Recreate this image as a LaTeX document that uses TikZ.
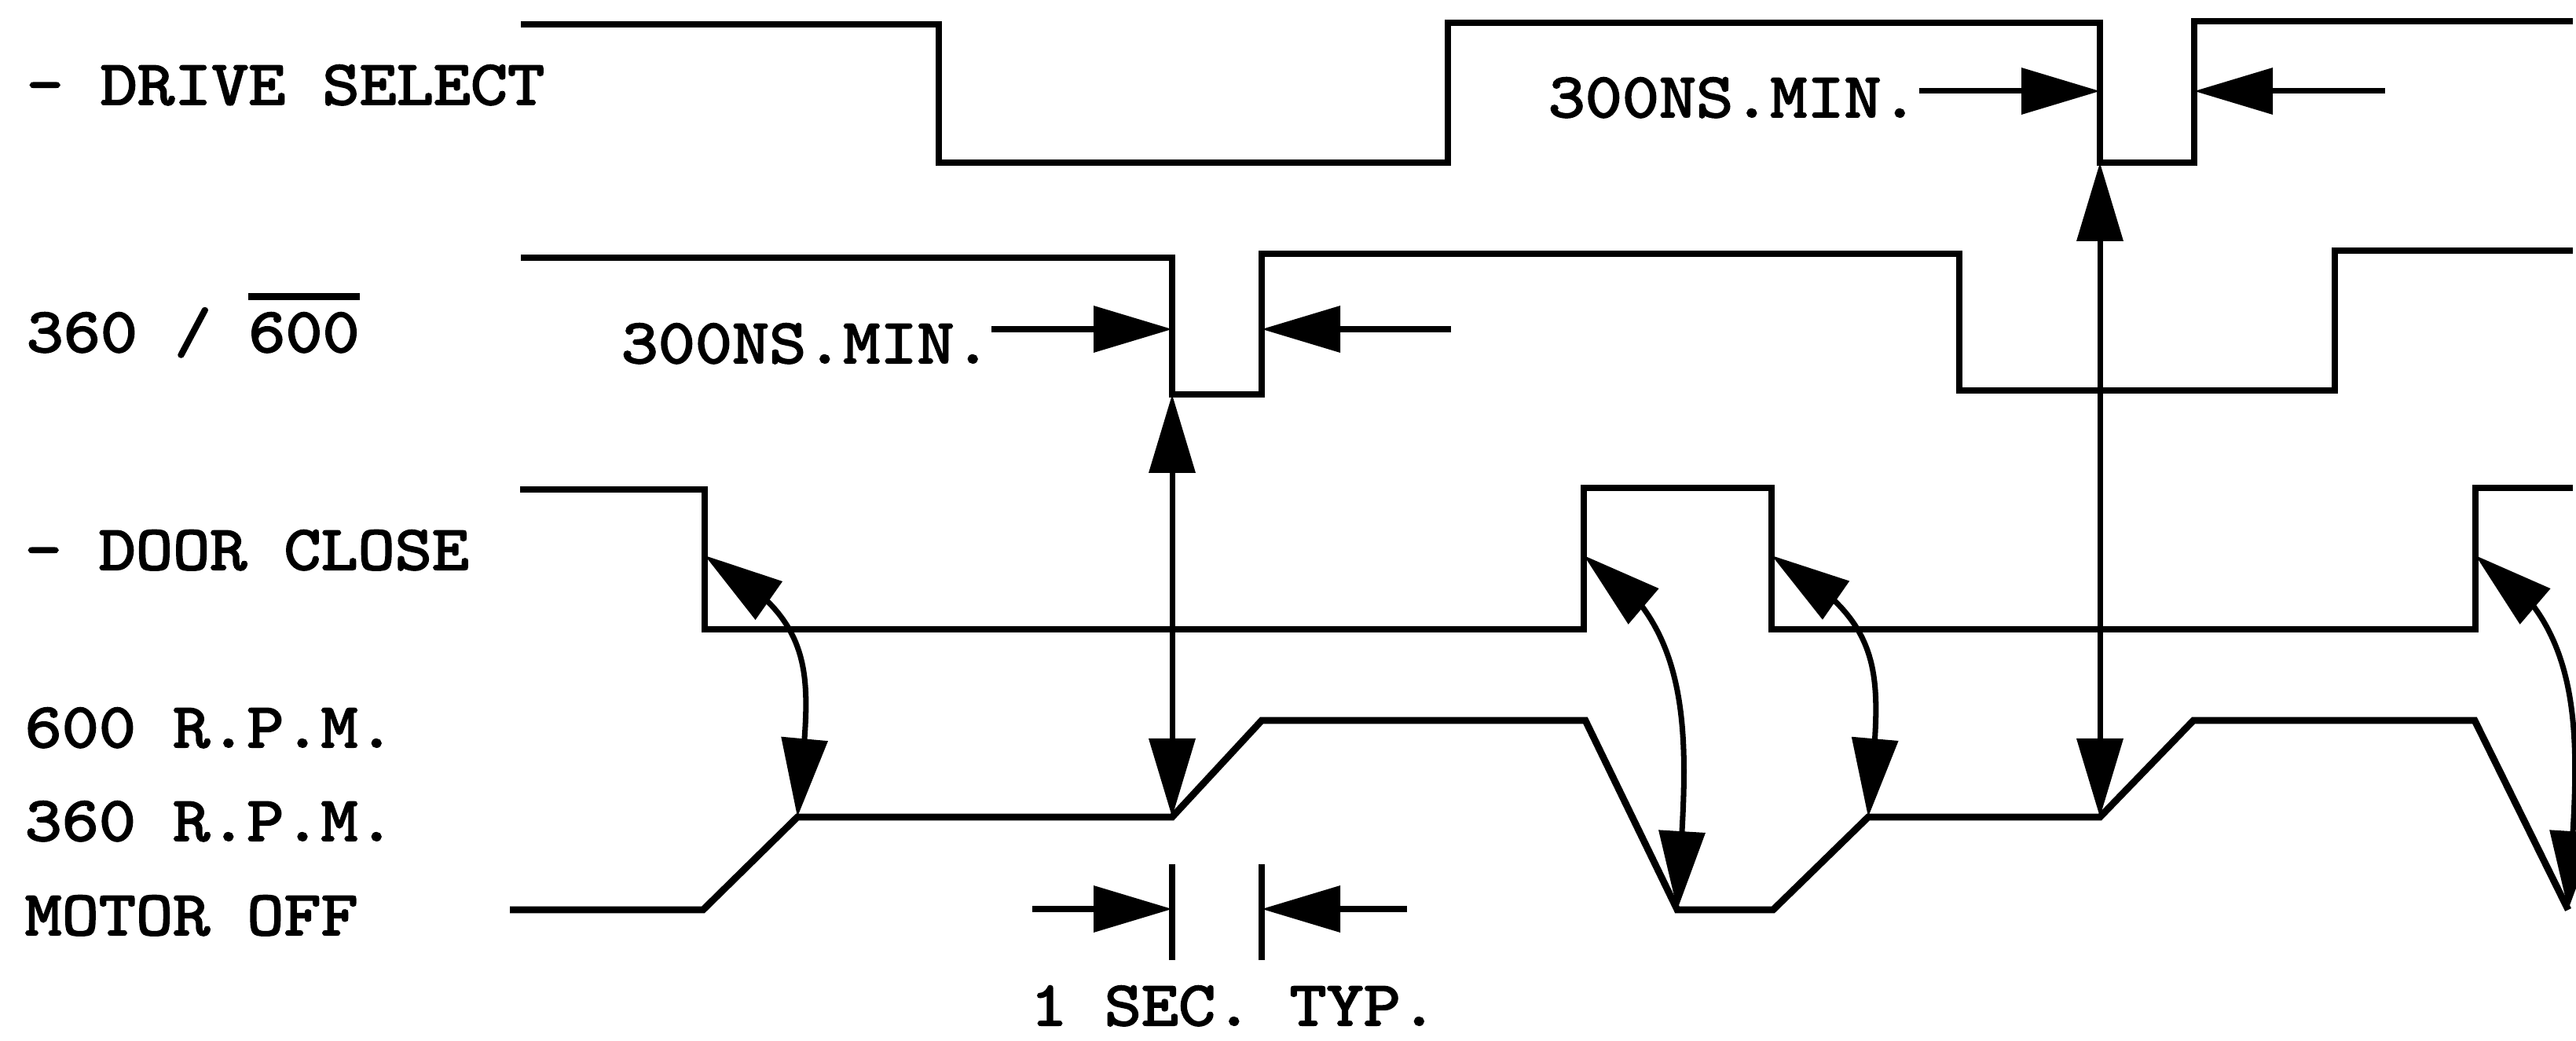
\documentclass[tikz,border=0pt]{standalone}
\usepackage{fontspec}
\newfontfamily\typewr{lmmono10-regular.otf}[FakeBold=2.5,FakeStretch=1.11]
\usetikzlibrary{arrows.meta,bending}
\newcommand{\barred}[1]{\vbox{\hrule height 2.4pt\kern 4.5pt\hbox{#1}}}
\tikzset{wave/.style={draw=black,line width=2.5pt},
 dimline/.style={draw=black,line width=2pt},
 lbl/.style={inner sep=0pt,font=\fontsize{23}{28}\selectfont\typewr},
 >={Triangle[length=1cm,width=0.58cm]}}
\begin{document}
\frenchspacing
\begin{tikzpicture}
\useasboundingbox (0,0) rectangle (32.79,13.25);
\coordinate (dsL2) at (26.73,11.18);
\coordinate (dsR2) at (27.93,11.18);
\coordinate (r2L1) at (14.92,8.23);
\coordinate (r2R1) at (16.06,8.23);
\coordinate (dc1) at (8.97,6.18);
\coordinate (dc2) at (20.16,6.18);
\coordinate (dc3) at (22.55,6.18);
\coordinate (dc4) at (31.51,6.18);
\coordinate (mA) at (10.15,2.85);
\coordinate (mB) at (21.35,1.67);
\coordinate (mC) at (23.78,2.85);
\coordinate (mD) at (32.69,1.67);
\coordinate (m360a) at (14.92,2.85);
\coordinate (m600a) at (16.06,4.08);
\coordinate (m360b) at (26.73,2.85);
\coordinate (m600b) at (27.92,4.08);
\draw[wave] (6.63,12.94) -- (11.95,12.94) -- (11.95,11.18) -- (18.43,11.18) -- (18.43,12.96) -- (dsL2 |- 0,12.96) -- (dsL2) -- (dsR2) -- (dsR2 |- 0,12.98) -- (32.75,12.98);
\draw[wave] (6.63,9.97) -- (r2L1 |- 0,9.97) -- (r2L1) -- (r2R1) -- (r2R1 |- 0,10.02) -- (24.94,10.02) -- (24.94,8.28) -- (29.72,8.28) -- (29.72,10.06) -- (32.75,10.06);
\draw[wave] (6.62,7.02) -- (8.97,7.02) -- (8.97,5.24) -- (20.16,5.24) -- (20.16,7.04) -- (22.55,7.04) -- (22.55,5.24) -- (31.51,5.24) -- (31.51,7.04) -- (32.75,7.04);
\draw[wave] (6.49,1.67) -- (8.95,1.67) -- (mA) -- (m360a) -- (m600a) -- (20.18,4.08) -- (mB) -- (22.57,1.67) -- (mC) -- (m360b) -- (m600b) -- (31.50,4.08) -- (mD);
\node[lbl,anchor=base west] (dsel) at (0.33,11.92) {- DRIVE SELECT};
\node[lbl,anchor=base west] (spd) at (0.33,8.77) {360 / \barred{600}};
\node[lbl,anchor=base west] (dcl) at (0.31,6.00) {- DOOR CLOSE};
\node[lbl,anchor=base west] (r600) at (0.31,3.74) {600 R.P.M.};
\node[lbl,anchor=base west] (r360) at (0.31,2.55) {360 R.P.M.};
\node[lbl,anchor=base west] (roff) at (0.31,1.35) {MOTOR OFF};
\node[lbl,anchor=base west] (ns1) at (19.70,11.76) {300NS.MIN.};
\node[lbl,anchor=base west] (ns2) at (7.90,8.63) {300NS.MIN.};
\node[lbl,anchor=base west] (sec) at (13.11,0.20) {1 SEC. TYP.};
\coordinate (ns1r) at (30.36,12.09);
\coordinate (ns2r) at (18.47,9.06);
\coordinate (sec1) at (13.14,1.68);
\coordinate (sec2) at (17.91,1.68);
\draw[dimline,->] (ns1.east |- 0,12.09) -- (dsL2 |- 0,12.09);
\draw[dimline,->] (ns1r) -- (ns1r -| dsR2);
\draw[dimline,->] (ns2.east |- 0,9.06) -- (r2L1 |- 0,9.06);
\draw[dimline,->] (ns2r) -- (ns2r -| r2R1);
\draw[dimline,<->] (dsL2) -- (m360b);
\draw[dimline,<->] (r2L1) -- (m360a);
\draw[dimline,<->] (dc1) to[out=-30,in=85,looseness=1.3] (mA);
\draw[dimline,<->] (dc2) to[out=-30,in=87] (mB);
\draw[dimline,<->] (dc3) to[out=-30,in=85,looseness=1.3] (mC);
\draw[dimline,<->] (dc4) to[out=-30,in=87] (mD);
\draw[wave] (m360a |- 0,2.25) -- (m360a |- 0,1.03);
\draw[wave] (m600a |- 0,2.25) -- (m600a |- 0,1.03);
\draw[dimline,->] (sec1) -- (sec1 -| m360a);
\draw[dimline,->] (sec2) -- (sec2 -| m600a);
\end{tikzpicture}
\end{document}
